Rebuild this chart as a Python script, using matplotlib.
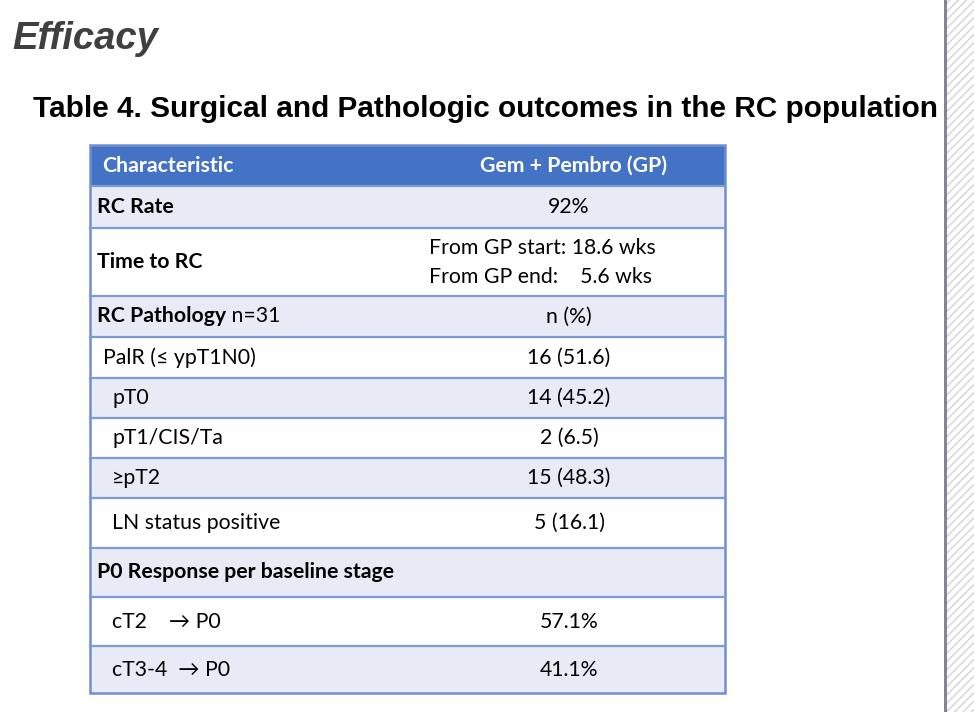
import matplotlib
matplotlib.use("Agg")
import matplotlib.pyplot as plt
from matplotlib.patches import Rectangle

# ---- data ----
title_small = "Efficacy"
table_title = "Table 4. Surgical and Pathologic outcomes in the RC population"
header = ["Characteristic", "Gem + Pembro (GP)"]
row_labels = ["RC Rate", "Time to RC", "RC Pathology", "PalR (≤ ypT1N0)", "pT0",
              "pT1/CIS/Ta", "≥pT2", "LN status positive",
              "P0 Response per baseline stage", "cT2    → P0", "cT3-4  → P0"]
row_label_suffix = ["", "", " n=31", "", "", "", "", "", "", "", ""]
row_values = ["92%", "From GP start: 18.6 wks\nFrom GP end:    5.6 wks", "n (%)",
              "16 (51.6)", "14 (45.2)", "2 (6.5)", "15 (48.3)", "5 (16.1)", "",
              "57.1%", "41.1%"]
row_bold = [True, True, True, False, False, False, False, False, True, False, False]
row_indent = [0, 0, 0, 1, 2, 2, 2, 2, 0, 2, 2]

# ---- layout (pixels) ----
W, H = 974, 712
row_edges = [145, 186, 228, 296, 337, 378, 418, 458, 498, 548, 597, 646, 693]
x_left, x_split, x_right = 90, 410, 725
indent_px = [7, 13, 22]
FS = 15.3
vcenter = 569

fig = plt.figure(figsize=(W / 100, H / 100), dpi=100)
ax = fig.add_axes([0, 0, 1, 1])
ax.set_xlim(0, W)
ax.set_ylim(H, 0)
ax.axis("off")

tfont = "Liberation Sans"
cfont = "Lato"

ax.text(12, 39, title_small, fontsize=27.5, fontweight="bold", fontstyle="italic",
        family=tfont, color="#404040", va="center", ha="left")
ax.text(33, 109, table_title, fontsize=21.4, fontweight="bold", family=tfont,
        color="black", va="center", ha="left")

# right slide edge with hatched margin
ax.add_patch(Rectangle((945.5, 0), 30, H, facecolor="white", edgecolor="#D4D4D4",
                       hatch="////", linewidth=0))
ax.plot([945, 945], [0, H], color="#7D8799", lw=2.2)

blue = "#4472C4"
band = "#E8EBF5"
line = "#7D9AD6"

# header
ax.add_patch(Rectangle((x_left, row_edges[0]), x_right - x_left,
                       row_edges[1] - row_edges[0], facecolor=blue, edgecolor="none"))
yc = (row_edges[0] + row_edges[1]) / 2
ax.text(x_left + 12, yc, header[0], color="white", fontsize=FS, fontweight="bold",
        family=cfont, va="center", ha="left")
ax.text(vcenter + 4, yc, header[1], color="white", fontsize=FS,
        fontweight="bold", family=cfont, va="center", ha="center")

for i, lab in enumerate(row_labels):
    y0, y1 = row_edges[i + 1], row_edges[i + 2]
    fc = band if i % 2 == 0 else "white"
    ax.add_patch(Rectangle((x_left, y0), x_right - x_left, y1 - y0,
                           facecolor=fc, edgecolor="none"))
    yc = (y0 + y1) / 2
    t = ax.text(x_left + indent_px[row_indent[i]], yc, lab, color="black",
                fontsize=FS, fontweight="bold" if row_bold[i] else "normal",
                family=cfont, va="center", ha="left")
    if row_label_suffix[i]:
        fig.canvas.draw()
        bb = t.get_window_extent()
        inv = ax.transData.inverted()
        xend = inv.transform((bb.x1, bb.y0))[0]
        ax.text(xend, yc, row_label_suffix[i], color="black", fontsize=FS,
                family=cfont, va="center", ha="left")
    if row_values[i]:
        if "\n" in row_values[i]:
            lines = row_values[i].split("\n")
            ax.text(429, yc - 14, lines[0], color="black", fontsize=FS, family=cfont,
                    va="center", ha="left")
            ax.text(429, yc + 15, lines[1], color="black", fontsize=FS, family=cfont,
                    va="center", ha="left")
        else:
            ax.text(vcenter, yc, row_values[i], color="black",
                    fontsize=FS, family=cfont, va="center", ha="center")

# row separators
for y in row_edges[1:-1]:
    ax.plot([x_left, x_right], [y, y], color=line, lw=1.6)
# outer border
ax.add_patch(Rectangle((x_left, row_edges[0]), x_right - x_left,
                       row_edges[-1] - row_edges[0], facecolor="none",
                       edgecolor="#6F8FD0", lw=1.8))

fig.savefig("out.png", dpi=100)
